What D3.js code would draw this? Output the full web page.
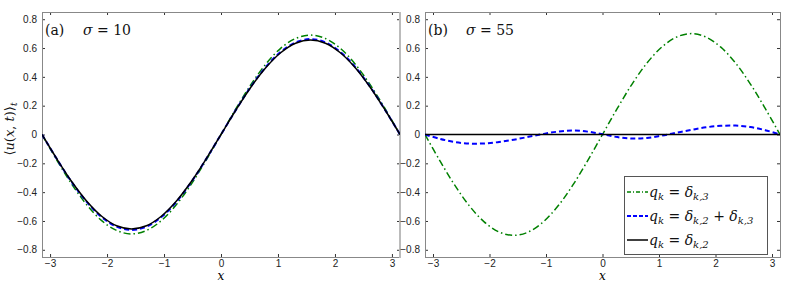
<!DOCTYPE html>
<html>
<head>
<meta charset="utf-8">
<script src="https://cdn.jsdelivr.net/npm/d3@7"></script>
<style>
body { margin: 0; background: #fff; }
svg { display: block; }
.tick text { font-family: "Liberation Sans", Arial, sans-serif; font-size: 10px; fill: #222; }
.math { font-family: "DejaVu Serif", "Liberation Serif", serif; }
</style>
</head>
<body>
<svg id="chart"></svg>
<script>
// sample positions along x (from -pi to pi, step pi/12)
var xGrid = [-3.1416, -2.8798, -2.6180, -2.3562, -2.0944, -1.8326, -1.5708, -1.3090, -1.0472, -0.7854, -0.5236, -0.2618, 0,
	0.2618, 0.5236, 0.7854, 1.0472, 1.3090, 1.5708, 1.8326, 2.0944, 2.3562, 2.6180, 2.8798, 3.1416];

// panel (a), sigma = 10
var aDelta3 = [0, -0.179, -0.345, -0.488, -0.598, -0.666, -0.690, -0.666, -0.598, -0.488, -0.345, -0.179, 0,
	0.179, 0.345, 0.488, 0.598, 0.666, 0.690, 0.666, 0.598, 0.488, 0.345, 0.179, 0];
var aDelta23 = [0, -0.171, -0.331, -0.468, -0.573, -0.639, -0.662, -0.639, -0.573, -0.468, -0.331, -0.171, 0,
	0.171, 0.331, 0.468, 0.573, 0.639, 0.662, 0.639, 0.573, 0.468, 0.331, 0.171, 0];
var aDelta2 = [0, -0.170, -0.328, -0.463, -0.567, -0.633, -0.655, -0.633, -0.567, -0.463, -0.328, -0.170, 0,
	0.170, 0.328, 0.463, 0.567, 0.633, 0.655, 0.633, 0.567, 0.463, 0.328, 0.170, 0];

// panel (b), sigma = 55
var bDelta3 = [0, -0.181, -0.350, -0.495, -0.606, -0.676, -0.700, -0.676, -0.606, -0.495, -0.350, -0.181, 0,
	0.181, 0.350, 0.495, 0.606, 0.676, 0.700, 0.676, 0.606, 0.495, 0.350, 0.181, 0];
var bDelta23 = [0, -0.030, -0.052, -0.063, -0.062, -0.052, -0.036, -0.016, 0.004, 0.020, 0.028, 0.020, 0.002,
	-0.018, -0.028, -0.024, -0.008, 0.012, 0.032, 0.050, 0.060, 0.062, 0.052, 0.030, 0];
var bDelta2 = [0, 0, 0, 0, 0, 0, 0, 0, 0, 0, 0, 0, 0,
	0, 0, 0, 0, 0, 0, 0, 0, 0, 0, 0, 0];

var xTicks = [-3, -2, -1, 0, 1, 2, 3];
var yTicks = [-0.8, -0.6, -0.4, -0.2, 0, 0.2, 0.4, 0.6, 0.8];
var panelLabels = ["(a)", "(b)"];
var sigmaLabels = ["10", "55"];

var width = 789, height = 282;
var plotTop = 12, plotBottom = 257;
var panels = [
	{ left: 42, right: 400, series: [aDelta3, aDelta23, aDelta2], label: panelLabels[0], sigma: sigmaLabels[0] },
	{ left: 425, right: 780, series: [bDelta3, bDelta23, bDelta2], label: panelLabels[1], sigma: sigmaLabels[1] }
];
var styles = [
	{ color: "#008000", width: 1.5, dash: "7,3,1.5,3" },	// q_k = delta_{k,3}
	{ color: "#0000ff", width: 2, dash: "5,3" },			// q_k = delta_{k,2} + delta_{k,3}
	{ color: "#000000", width: 1.5, dash: null }			// q_k = delta_{k,2}
];

var svg = d3.select("#chart").attr("width", width).attr("height", height);

function fmt(d) {
	if (d === 0) return "0";
	var s = Math.abs(d) < 1 ? d3.format(".1f")(d) : String(d);
	return s.replace("-", "\u2212");
}

panels.forEach(function(p, i) {
	var xScale = d3.scaleLinear().domain([-Math.PI, Math.PI]).range([p.left, p.right]);
	var yScale = d3.scaleLinear().domain([-0.85, 0.85]).range([plotBottom, plotTop]);
	var g = svg.append("g");

	g.append("clipPath").attr("id", "clip" + i)
		.append("rect")
		.attr("x", p.left).attr("y", plotTop)
		.attr("width", p.right - p.left).attr("height", plotBottom - plotTop);

	// axes with inward ticks on all four sides
	var gx = g.append("g").attr("transform", "translate(0," + plotBottom + ")")
		.call(d3.axisBottom(xScale).tickValues(xTicks).tickSizeInner(-3).tickSizeOuter(0).tickPadding(3).tickFormat(fmt));
	var gxt = g.append("g").attr("transform", "translate(0," + plotTop + ")")
		.call(d3.axisTop(xScale).tickValues(xTicks).tickSizeInner(-3).tickSizeOuter(0).tickFormat(""));
	var gy = g.append("g").attr("transform", "translate(" + p.left + ",0)")
		.call(d3.axisLeft(yScale).tickValues(yTicks).tickSizeInner(-3).tickSizeOuter(0).tickPadding(5).tickFormat(fmt));
	var gyr = g.append("g").attr("transform", "translate(" + p.right + ",0)")
		.call(d3.axisRight(yScale).tickValues(yTicks).tickSizeInner(-3).tickSizeOuter(0).tickFormat(""));
	[gx, gxt, gy, gyr].forEach(function(a) {
		a.select(".domain").remove();
		a.selectAll(".tick line").attr("stroke", "#333");
	});

	g.append("rect")
		.attr("x", p.left + 0.5).attr("y", plotTop + 0.5)
		.attr("width", p.right - p.left).attr("height", plotBottom - plotTop)
		.attr("fill", "none").attr("stroke", "#888").attr("stroke-width", 1);
	if (i === 0) {
		g.append("line")
			.attr("x1", p.right).attr("x2", p.right).attr("y1", plotTop).attr("y2", plotBottom + 1)
			.attr("stroke", "#bbb").attr("stroke-width", 2);
	}

	var line = d3.line()
		.x(function(d, k) { return xScale(xGrid[k]); })
		.y(function(d) { return yScale(d); })
		.curve(d3.curveCatmullRom);

	var curves = g.append("g").attr("clip-path", "url(#clip" + i + ")");
	p.series.forEach(function(s, j) {
		curves.append("path")
			.datum(s)
			.attr("d", line)
			.attr("fill", "none")
			.attr("stroke", styles[j].color)
			.attr("stroke-width", styles[j].width)
			.attr("stroke-dasharray", styles[j].dash);
	});

	// panel label
	var t = g.append("text").attr("class", "math")
		.attr("x", p.left + 3).attr("y", 35)
		.attr("font-size", 14).attr("fill", "#111");
	t.append("tspan").text(p.label);
	t.append("tspan").attr("x", p.left + 41).attr("font-style", "italic").text("\u03c3");
	t.append("tspan").text(" = " + p.sigma);

	// x label
	g.append("text").attr("class", "math")
		.attr("x", xScale(0)).attr("y", 280)
		.attr("text-anchor", "middle").attr("font-style", "italic").attr("font-size", 12)
		.text("x");
});

// y label
var yl = svg.append("text").attr("class", "math")
	.attr("transform", "translate(14,129) rotate(-90)")
	.attr("text-anchor", "middle").attr("font-size", 13).attr("fill", "#111");
yl.append("tspan").text("\u27e8");
yl.append("tspan").attr("font-style", "italic").text("u");
yl.append("tspan").text("(");
yl.append("tspan").attr("font-style", "italic").text("x");
yl.append("tspan").text(", ");
yl.append("tspan").attr("font-style", "italic").text("t");
yl.append("tspan").text(")\u27e9");
yl.append("tspan").attr("font-style", "italic").attr("font-size", 9).attr("dy", 3).text("t");

// legend
var legendItems = [
	[["q", "i"], ["k", "s"], [" = ", ""], ["\u03b4", "i"], ["k,3", "s"]],
	[["q", "i"], ["k", "s"], [" = ", ""], ["\u03b4", "i"], ["k,2", "s"], [" + ", ""], ["\u03b4", "i"], ["k,3", "s"]],
	[["q", "i"], ["k", "s"], [" = ", ""], ["\u03b4", "i"], ["k,2", "s"]]
];
var legendY = d3.scalePoint().domain([0, 1, 2]).range([192, 240]);
var lg = svg.append("g");
lg.append("rect")
	.attr("x", 624.5).attr("y", 176.5).attr("width", 143).attr("height", 78)
	.attr("fill", "#fff").attr("stroke", "#555").attr("stroke-width", 1);
legendItems.forEach(function(item, j) {
	var y = legendY(j);
	lg.append("line")
		.attr("x1", 627).attr("x2", 648).attr("y1", y).attr("y2", y)
		.attr("stroke", styles[j].color)
		.attr("stroke-width", styles[j].width)
		.attr("stroke-dasharray", j === 0 ? "4,2,1,2" : (j === 1 ? "4,2" : null));
	var t = lg.append("text").attr("class", "math")
		.attr("x", 649).attr("y", y + 5).attr("font-size", 14).attr("fill", "#111");
	var shifted = false;
	item.forEach(function(part) {
		var ts = t.append("tspan").text(part[0]);
		if (part[1] === "i") ts.attr("font-style", "italic");
		if (part[1] === "s") {
			ts.attr("font-style", "italic").attr("font-size", 10).attr("dy", 3);
			shifted = true;
		} else if (shifted) {
			ts.attr("dy", -3);
			shifted = false;
		}
	});
});
</script>
</body>
</html>
